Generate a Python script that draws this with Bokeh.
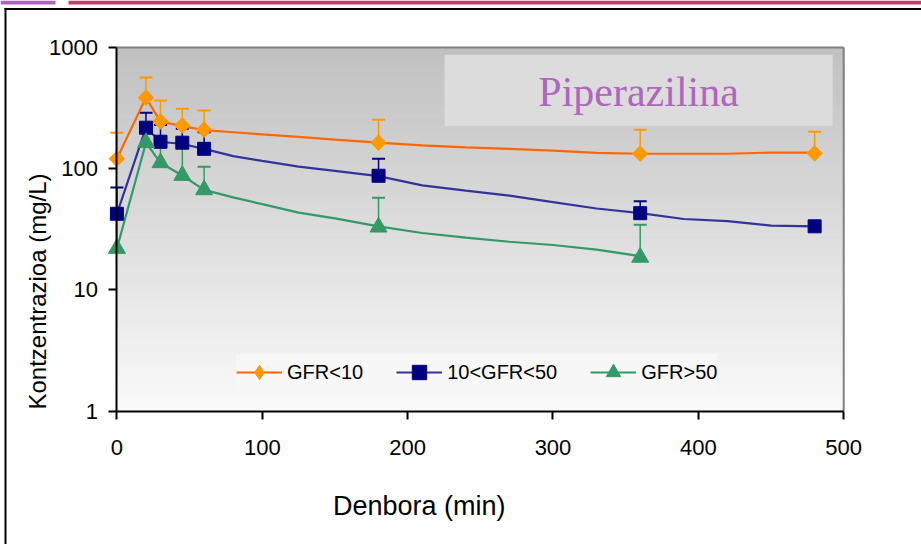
import numpy as np
from bokeh.plotting import figure
from bokeh.models import (Range1d, FixedTicker, Whisker, TeeHead, ColumnDataSource,
                          Legend, LegendItem, BoxAnnotation, Label, PolyAnnotation)
from bokeh.embed import file_html
from bokeh.resources import INLINE

# ---------------- data ----------------
t_obs = [0, 20, 30, 45, 60, 180, 360, 480]
gfr10_obs = [121, 386, 245, 227, 210, 164, 133, 134]
gfr10_err_top = [198, 565, 365, 313, 302, 254, 210, 202]

gfr1050_obs = [42.5, 218, 167, 164, 146, 87.5, 43, 33.5]
gfr1050_err_top = [70, 290, 230, 214, 200, 121, 54, 35.5]

t_obs_g = [0, 20, 30, 45, 60, 180, 360]
gfr50_obs = [22, 164, 112, 88, 67, 33, 18.6]
gfr50_err_top = [40, 200, 150, 150, 104, 57.6, 34.5]

t_curve = [0, 20, 30, 45, 60, 80, 100, 125, 150, 180, 210, 240, 270, 300, 330, 360, 390, 420, 450, 480]
gfr10_curve = [121, 386, 245, 225, 208, 200, 192, 183, 174, 164, 156, 150, 146, 141, 135, 133, 133, 133, 136, 136]
gfr1050_curve = [42.5, 218, 167, 160, 146, 127, 116, 104, 96, 87, 73, 66, 60, 53, 47, 43, 38.5, 37, 34, 33.5]
t_curve_g = [0, 20, 30, 45, 60, 80, 100, 125, 150, 180, 210, 240, 270, 300, 330, 360]
gfr50_curve = [22, 164, 112, 88, 67, 58, 51, 43.5, 39, 33.5, 29.5, 27, 25, 23.5, 21.5, 19]

series_labels = ["GFR<10", "10<GFR<50", "GFR>50"]
x_ticks = [0, 100, 200, 300, 400, 500]
y_ticks = [1, 10, 100, 1000]
y_tick_labels = ["1", "10", "100", "1000"]
title_text = "Piperazilina"
x_label = "Denbora (min)"
y_label = "Kontzentrazioa (mg/L)"

# ---------------- figure ----------------
W, H = 921, 544
x_min, x_max = 0, 500
y_min, y_max = 1, 1000
FONT = "Liberation Sans"
PX_X = 1.4536            # px per minute
PX_DEC = 121.23          # px per decade
X0_PX, Y1_PX = 116.4, 410.7   # page position of x=0 and y=1

x_lo = -X0_PX / PX_X
x_hi = (W - X0_PX) / PX_X
y_lo = 10 ** (-(H - Y1_PX) / PX_DEC)
y_hi = 10 ** (Y1_PX / PX_DEC)

p = figure(width=W, height=H,
           x_range=Range1d(x_lo, x_hi), y_range=Range1d(y_lo, y_hi),
           y_axis_type="log", output_backend="svg", toolbar_location=None,
           min_border_left=0, min_border_right=0, min_border_top=0, min_border_bottom=0)
p.background_fill_color = "white"
p.border_fill_color = "white"
p.outline_line_color = None
p.xgrid.visible = False
p.ygrid.visible = False

# gradient plot-area background
n = 120
edges = np.logspace(np.log10(y_min), np.log10(y_max), n + 1)
mids = np.sqrt(edges[:-1] * edges[1:])
frac = np.log10(mids) / np.log10(y_max)
shade = (250 - (250 - 192) * frac).round().astype(int)
cols = ["#%02x%02x%02x" % (s, s, s) for s in shade]
p.quad(left=x_min, right=x_max, bottom=edges[:-1], top=edges[1:],
       fill_color=cols, line_color=cols, line_width=1, level="image")

# plot-area borders: top/right grey
p.segment(x0=[x_min, x_max], y0=[y_max, y_min], x1=[x_max, x_max], y1=[y_max, y_max],
          line_color="#808080", line_width=2, level="image")

# title box
p.add_layout(BoxAnnotation(left=225.4, right=492.4, top=870, bottom=225,
                           fill_color="#dcdcdc", fill_alpha=1, line_color=None, level="underlay"))
p.add_layout(Label(x=(225.4 + 492.4) / 2, y=430, text=title_text, text_align="center",
                   text_baseline="alphabetic", text_font="Liberation Serif",
                   text_font_size="42px", text_color="#B065BE"))

# slide decorations (screen units, origin bottom-left)
def poly(xs, ys, color):
    p.add_layout(PolyAnnotation(xs=xs, ys=ys, xs_units="screen", ys_units="screen",
                                fill_color=color, fill_alpha=1, line_color=None, level="overlay"))

poly([0, 55, 55, 0], [H, H, H - 4, H - 4], "#AE63BF")
poly([68, W, W, 68], [H, H, H - 4, H - 4], "#C0406A")
poly([4, W, W, 4], [H - 7.5, H - 7.5, H - 9.5, H - 9.5], "black")
poly([4, 6, 6, 4], [H - 7.5, H - 7.5, 0, 0], "black")

# error bars
def add_err(xs, ys, tops, color):
    src = ColumnDataSource(dict(x=xs, base=ys, upper=tops))
    w = Whisker(source=src, base="x", lower="base", upper="upper", dimension="height",
                line_color=color, line_width=1.5,
                upper_head=TeeHead(size=13, line_color=color, line_width=2),
                lower_head=None, level="underlay")
    p.add_layout(w)

add_err(t_obs, gfr10_obs, gfr10_err_top, "#FF9900")
add_err(t_obs, gfr1050_obs, gfr1050_err_top, "#000080")
add_err(t_obs_g, gfr50_obs, gfr50_err_top, "#339966")

# lines
l1 = p.line(t_curve, gfr10_curve, line_color="#FF6600", line_width=2.2)
l2 = p.line(t_curve, gfr1050_curve, line_color="#333399", line_width=2.2)
l3 = p.line(t_curve_g, gfr50_curve, line_color="#339966", line_width=2.2)

# markers (a diamond under each rotated square gives the legend its diamond)
m1_leg = p.scatter(t_obs, gfr10_obs, marker="diamond", size=12,
                   fill_color="#FF9900", line_color="#FF9900")
m1 = p.scatter(t_obs, gfr10_obs, marker="square", angle=np.pi / 4, size=11,
               fill_color="#FF9900", line_color="#FF9900")
m2 = p.scatter(t_obs, gfr1050_obs, marker="square", size=13,
               fill_color="#000080", line_color="#000080")
m3 = p.scatter(t_obs_g, gfr50_obs, marker="triangle", size=17,
               fill_color="#339966", line_color="#339966")

# axes (placed at x=0 / y=1 inside the full-canvas frame)
for ax in (p.xaxis[0], p.yaxis[0]):
    ax.axis_line_color = "black"
    ax.axis_line_width = 2
    ax.major_tick_line_color = "black"
    ax.major_tick_line_width = 2
    ax.major_tick_out = 8
    ax.major_tick_in = 0
    ax.minor_tick_line_color = None
    ax.major_label_text_font = FONT
    ax.major_label_text_font_size = "22px"
    ax.major_label_text_color = "black"

p.xaxis.ticker = FixedTicker(ticks=x_ticks)
p.xaxis.bounds = (x_min, x_max)
p.xaxis.fixed_location = y_min
p.xaxis.major_label_standoff = 21

p.yaxis.ticker = FixedTicker(ticks=y_ticks)
p.yaxis.major_label_overrides = {float(t): s for t, s in zip(y_ticks, y_tick_labels)}
p.yaxis.bounds = (y_min, y_max)
p.yaxis.fixed_location = x_min
p.yaxis.major_label_standoff = 11

# axis titles
p.add_layout(Label(x=208, y=H - 505, x_units="data", y_units="screen", text=x_label,
                   text_align="center", text_baseline="middle", text_font=FONT,
                   text_font_size="27px", text_color="black"))
p.add_layout(Label(x=37, y=9.71, x_units="screen", y_units="data", text=y_label,
                   angle=np.pi / 2, text_align="center", text_baseline="middle",
                   text_font=FONT, text_font_size="24px", text_color="black"))

legend = Legend(items=[LegendItem(label=series_labels[0], renderers=[l1, m1_leg]),
                       LegendItem(label=series_labels[1], renderers=[l2, m2]),
                       LegendItem(label=series_labels[2], renderers=[l3, m3])],
                orientation="horizontal", location=(236, H - 390), margin=0,
                glyph_width=46, glyph_height=36, label_standoff=5, spacing=33, padding=8,
                background_fill_color="#f7f7f7", background_fill_alpha=1,
                border_line_color=None, label_text_font=FONT, label_text_font_size="20px",
                label_text_color="black")
p.add_layout(legend)

open("out.html", "w").write(file_html(p, INLINE))
